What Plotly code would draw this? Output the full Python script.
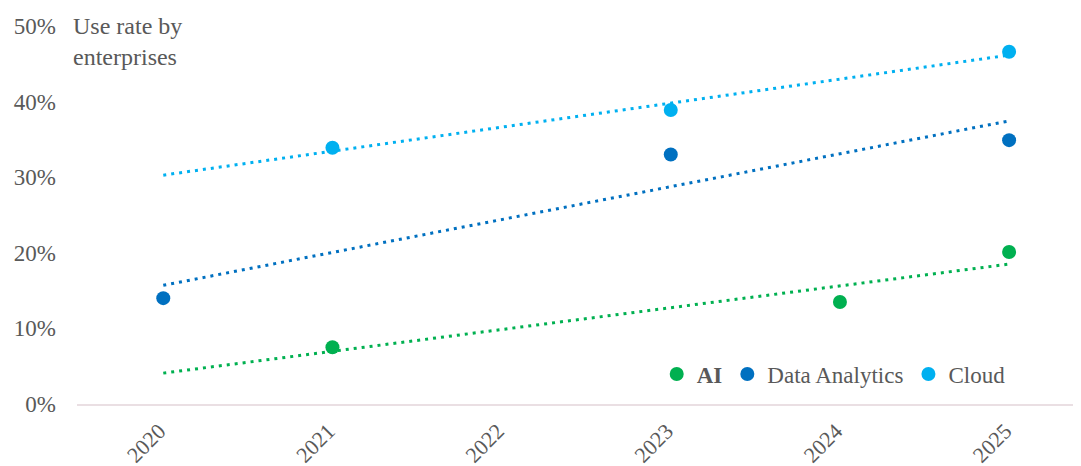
import numpy as np
import plotly.graph_objects as go

# data
years = [2020, 2021, 2022, 2023, 2024, 2025]
year_labels = ["2020", "2021", "2022", "2023", "2024", "2025"]

ai_years = [2021, 2024, 2025]
ai_vals = [0.075, 0.135, 0.201]

da_years = [2020, 2023, 2025]
da_vals = [0.140, 0.330, 0.349]

cloud_years = [2021, 2023, 2025]
cloud_vals = [0.339, 0.389, 0.466]

y_ticks = [0, 0.1, 0.2, 0.3, 0.4, 0.5]

FONT = "'Liberation Serif', 'Times New Roman', serif"
GREY = "#595959"

series = [
    ("<b>AI</b>", ai_years, ai_vals, "#00B050"),
    ("Data Analytics", da_years, da_vals, "#0070C0"),
    ("Cloud", cloud_years, cloud_vals, "#00B0F0"),
]

fig = go.Figure()

# linear trend lines (least squares, like the spreadsheet trendline)
trend_x = [years[0], years[-1]]
for name, xs, ys, col in series:
    slope, icpt = np.polyfit(xs, ys, 1)
    fig.add_trace(go.Scatter(
        x=trend_x, y=[slope * x + icpt for x in trend_x],
        mode="lines", line=dict(color=col, width=3, dash="3px,5px"),
        showlegend=False, hoverinfo="skip",
    ))

for name, xs, ys, col in series:
    fig.add_trace(go.Scatter(
        x=xs, y=ys, name=name, mode="markers",
        marker=dict(size=14, color=col),
    ))

# page body has an 8px default margin, so the figure is sized/offset for it
fig.update_layout(
    width=1081,
    height=458,
    margin=dict(l=69, r=8, t=2, b=62),
    plot_bgcolor="white",
    paper_bgcolor="white",
    font=dict(family=FONT, size=20, color=GREY),
    legend=dict(
        orientation="h",
        x=0.93,
        xanchor="right",
        y=0.076,
        yanchor="middle",
        font=dict(size=23, color=GREY),
        bgcolor="rgba(0,0,0,0)",
        itemwidth=30,
        tracegroupgap=0,
    ),
    xaxis=dict(
        range=[2019.49, 2025.425],
        tickmode="array",
        tickvals=years,
        ticktext=[t + "\u00a0" for t in year_labels],
        tickangle=-45,
        showgrid=False,
        zeroline=False,
        showline=True,
        linecolor="#EADFE3",
        linewidth=1.5,
        ticks="",
        tickfont=dict(size=22, color=GREY),
        ticklabelstandoff=0,
        automargin=False,
    ),
    yaxis=dict(
        range=[0, 0.5212],
        tickmode="array",
        tickvals=y_ticks,
        tickformat=".0%",
        showgrid=False,
        zeroline=False,
        showline=False,
        ticks="",
        tickfont=dict(size=23, color=GREY),
        ticklabelstandoff=20,
        automargin=False,
    ),
)

fig.add_annotation(
    text="Use rate by<br>enterprises",
    xref="paper", yref="y",
    x=0, y=0.5,
    xanchor="left", yanchor="top",
    xshift=-6, yshift=15,
    align="left",
    showarrow=False,
    font=dict(family=FONT, size=24, color=GREY),
)

fig.write_html("out.html")
